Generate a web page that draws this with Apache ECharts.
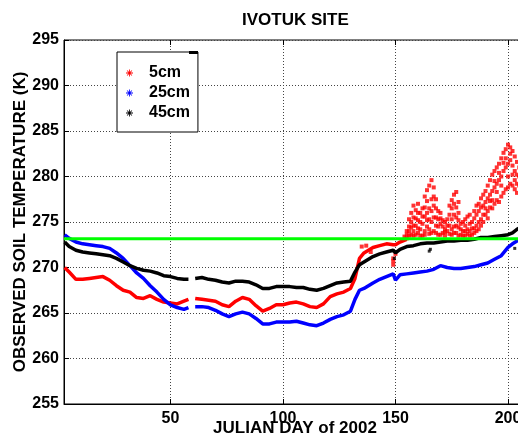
<!DOCTYPE html>
<html>
<head>
<meta charset="utf-8">
<script src="https://cdn.jsdelivr.net/npm/echarts@6/dist/echarts.min.js"></script>
<style>
  html, body { margin: 0; padding: 0; background: #fff; }
  #grafico { width: 518px; height: 439px; }
</style>
</head>
<body>
<div id="grafico"></div>
<script>
// Días julianos compartidos por las tres curvas ('-' = hueco en los datos)
const days = [3, 5, 8, 11, 14, 17, 20, 23, 26, 29, 32, 35, 38, 41, 44, 47, 50, 53, 56, 58, 59.5,
  61, 64, 67, 70, 73, 76, 79, 82, 85, 88, 91, 94, 97, 100, 103, 106, 109, 112, 115,
  118, 121, 124, 127, 130, 132, 134, 136, 138, 140, 143, 146, 149, 150, 152, 155,
  158, 161, 164, 167, 170, 173, 176, 179, 182, 185, 188, 191, 194, 197, 200, 202, 204, 206];

const temp5cm = [270.0, 269.5, 268.7, 268.7, 268.8, 268.9, 269.0, 268.6, 268.0, 267.5,
  267.3, 266.7, 266.6, 266.9, 266.5, 266.2, 266.1, 266.0, 266.3, 266.5, '-',
  266.6, 266.5, 266.4, 266.3, 265.9, 265.7, 266.3, 266.7, 266.5,
  265.8, 265.2, 265.5, 265.9, 265.9, 266.1, 266.2, 266.0, 265.7, 265.6,
  266.0, 266.8, 267.1, 267.3, 267.7, 268.8, 271.0, 271.6, 271.9, 272.2,
  272.4, 272.6, 272.5, 272.5, 272.8, 273.1,
  '-', '-', '-', '-', '-', '-', '-', '-', '-', '-', '-', '-', '-', '-', '-', '-', '-', '-'];

const temp25cm = [273.6, 273.2, 272.8, 272.6, 272.5, 272.4, 272.3, 272.1, 271.6, 271.0,
  270.2, 269.4, 268.8, 268.0, 267.3, 266.5, 265.9, 265.6, 265.4, 265.6, '-',
  265.7, 265.7, 265.6, 265.3, 264.9, 264.6, 264.9, 265.1, 264.9,
  264.4, 263.8, 263.8, 264.0, 264.0, 264.0, 264.1, 263.9, 263.7, 263.6,
  263.9, 264.3, 264.6, 264.8, 265.2, 266.5, 267.5, 267.7, 268.0, 268.3,
  268.7, 269.0, 269.3, 268.6, 269.2, 269.3,
  269.4, 269.5, 269.6, 269.8, 270.2, 270.0, 269.9, 269.9, 270.0, 270.1,
  270.3, 270.5, 270.9, 271.3, 272.2, 272.6, 272.9, 273.2];

const temp45cm = [272.8, 272.3, 271.9, 271.7, 271.6, 271.5, 271.4, 271.3, 271.0, 270.6,
  270.2, 269.9, 269.7, 269.6, 269.4, 269.1, 269.0, 268.8, 268.7, 268.7, '-',
  268.8, 268.9, 268.7, 268.6, 268.4, 268.3, 268.5, 268.5, 268.4,
  268.1, 267.7, 267.7, 267.9, 267.9, 267.9, 267.8, 267.8, 267.6, 267.5,
  267.7, 268.0, 268.3, 268.4, 268.5, 269.5, 270.3, 270.6, 270.9, 271.2,
  271.5, 271.7, 271.9, 271.6, 272.0, 272.3,
  272.4, 272.6, 272.7, 272.7, 272.8, 272.9, 272.9, 273.0, 273.0, 273.1,
  273.3, 273.3, 273.4, 273.5, 273.6, 273.8, 274.2, 274.5];

// Nube de puntos de 5cm en verano: [día, temperaturas...]
const cloud5cm = [
  [135, 272.3], [137, 272.4], [139, 271.7], [149, 271.0, 270.3, 270.7], [150, 271.5], [154, 273.4],
  [155, 273.2, 274.0, 273.6], [156, 273.5, 274.5, 275.3, 274.0], [157, 273.6, 275.0, 276.0, 274.4],
  [158, 274.0, 275.5, 276.8, 274.6, 273.5], [159, 273.6, 274.6, 276.3, 275.4],
  [160, 273.8, 275.2, 277.0, 274.3, 276.0], [161, 274.2, 276.0, 275.0, 273.5],
  [162, 273.5, 274.8, 276.5, 275.6], [163, 274.0, 275.6, 277.8, 273.6, 276.6],
  [164, 274.5, 276.0, 278.5, 275.2, 277.3], [165, 274.2, 276.5, 279.0, 275.3, 273.7],
  [166, 275.0, 277.5, 279.6, 273.8, 276.2], [167, 274.0, 276.8, 278.8, 275.5, 277.8],
  [168, 273.8, 275.5, 277.5, 274.6, 276.5], [169, 274.5, 276.2, 273.6, 275.3],
  [170, 273.6, 274.8, 276.0, 275.4], [171, 273.8, 274.5, 275.2], [172, 273.5, 274.2, 275.0, 273.9],
  [173, 274.0, 275.3, 274.6], [174, 273.7, 275.8, 276.8, 274.6],
  [175, 274.2, 276.5, 277.4, 273.6, 275.3], [176, 274.5, 277.0, 278.0, 275.8, 273.8],
  [177, 273.8, 275.5, 278.3, 276.6, 274.6], [178, 274.4, 276.0, 277.2, 273.5, 275.2],
  [179, 273.6, 274.8, 274.2], [180, 274.0, 275.0, 273.5], [181, 273.5, 274.6, 275.3, 274.0],
  [182, 274.2, 275.6, 273.7], [183, 274.0, 274.8, 275.8, 273.5], [184, 273.6, 275.0, 274.3],
  [185, 274.3, 275.4, 276.2, 273.8], [186, 274.6, 275.8, 276.8, 274.0],
  [187, 275.0, 276.2, 274.2, 277.0], [188, 275.3, 276.6, 277.6, 274.6],
  [189, 275.0, 276.8, 278.0, 275.8], [190, 275.8, 277.2, 278.4, 276.5],
  [191, 276.2, 277.6, 279.0, 275.4], [192, 276.6, 278.0, 279.6, 277.3],
  [193, 276.5, 278.4, 280.2, 277.4], [194, 277.0, 278.8, 280.6, 279.5],
  [195, 277.4, 279.2, 281.0, 278.3], [196, 277.2, 279.6, 281.4, 280.4],
  [197, 277.8, 280.0, 282.0, 279.0], [198, 278.2, 280.6, 282.6, 281.5],
  [199, 278.6, 281.0, 283.0, 282.0], [200, 278.8, 281.4, 283.5, 280.0],
  [201, 279.2, 281.8, 283.2, 282.5], [202, 279.0, 281.2, 282.8, 280.2],
  [203, 278.6, 280.6, 282.2, 279.6], [204, 278.2, 280.2, 281.6, 279.2],
  [205, 279.0, 281.0, 280.0]
];

// Puntos sueltos de 45cm
const stray45cm = [[149.5, 271.0], [165, 271.8], [165.5, 272.0], [203, 272.1]];

// Punto de congelación
const freezeDays = [2.7, 208];
const freezeTemp = 273.15;

const xRange = [2.7, 208];
const yRange = [255, 295];
const yStep = 5;

const FUENTE = "'Liberation Sans', Arial, Helvetica, sans-serif";
const ROJO = '#ff0000', AZUL = '#0000ff', NEGRO = '#000000', VERDE = '#00ff00';
const ASTERISCO = 'path://M0,4.4H10V5.6H0Z M4.4,0H5.6V10H4.4Z M1.1,1.9L1.9,1.1L8.9,8.1L8.1,8.9Z M8.1,1.1L8.9,1.9L1.9,8.9L1.1,8.1Z';

function pares(valores) {
  return days.map((d, i) => [d, valores[i]]);
}
const nube = [];
cloud5cm.forEach((fila) => fila.slice(1).forEach((t) => nube.push([fila[0], t])));

const rejilla = { show: true, lineStyle: { color: '#444', width: 1, type: [1, 2] } };
const texto = { color: '#000', fontFamily: FUENTE, fontWeight: 'bold' };

function curva(nombre, datos, color) {
  return { name: nombre, type: 'line', data: datos, symbol: 'none', connectNulls: false,
           lineStyle: { color: color, width: 3.5 }, itemStyle: { color: color }, animation: false };
}

const chart = echarts.init(document.getElementById('grafico'), null, { renderer: 'canvas' });
chart.setOption({
  backgroundColor: '#fff',
  animation: false,
  title: {
    text: 'IVOTUK SITE', left: 242, top: 12, padding: 0,
    textStyle: Object.assign({ fontSize: 17 }, texto)
  },
  // outerBoundsMode none: la caja queda donde se pide, aunque se salga por la derecha
  grid: { left: 64, top: 40, width: 462, height: 364, show: true, outerBoundsMode: 'none',
          borderColor: '#000', borderWidth: 1, backgroundColor: 'transparent' },
  legend: {
    orient: 'vertical', left: 117, top: 52,
    padding: [11, 8, 9, 9], itemGap: 0, itemWidth: 7, itemHeight: 7,
    icon: ASTERISCO,
    borderColor: '#000', borderWidth: 1, backgroundColor: '#fff',
    data: ['5cm', '25cm', '45cm'],
    textStyle: Object.assign({ fontSize: 16, lineHeight: 20, padding: [0, 0, 0, 11] }, texto)
  },
  graphic: [{ type: 'rect', left: 189, top: 51, shape: { width: 9, height: 3 },
              style: { fill: '#000' }, z: 100 }],
  xAxis: [{
    type: 'value', min: xRange[0], max: xRange[1],
    name: 'JULIAN DAY of 2002', nameLocation: 'middle', nameGap: 16, nameMoveOverlap: false,
    nameTextStyle: Object.assign({ fontSize: 17 }, texto),
    axisLine: { show: true, lineStyle: { color: '#000', width: 1 } },
    axisTick: { show: true, inside: true, length: 5, lineStyle: { color: '#000' } },
    axisLabel: Object.assign({ fontSize: 16, margin: 7, showMinLabel: false, showMaxLabel: false }, texto),
    splitLine: rejilla
  }, {
    type: 'value', position: 'top', min: xRange[0], max: xRange[1],
    axisLine: { show: false },
    axisTick: { show: true, inside: true, length: 5, lineStyle: { color: '#000' } },
    axisLabel: { show: false }, splitLine: { show: false }
  }],
  yAxis: {
    type: 'value', min: yRange[0], max: yRange[1], interval: yStep,
    name: 'OBSERVED SOIL TEMPERATURE (K)', nameLocation: 'middle', nameGap: 35, nameMoveOverlap: false,
    nameTextStyle: Object.assign({ fontSize: 17 }, texto),
    axisLine: { show: true, lineStyle: { color: '#000', width: 1 } },
    axisTick: { show: true, inside: true, length: 5, lineStyle: { color: '#000' } },
    axisLabel: Object.assign({ fontSize: 16, margin: 5 }, texto),
    splitLine: rejilla
  },
  series: [
    curva('5cm', pares(temp5cm), ROJO),
    { name: '5cm', type: 'scatter', data: nube, symbol: 'rect', symbolSize: 4,
      itemStyle: { color: ROJO }, animation: false },
    curva('25cm', pares(temp25cm), AZUL),
    curva('45cm', pares(temp45cm), NEGRO),
    { name: '45cm', type: 'scatter', data: stray45cm, symbol: 'rect', symbolSize: 3,
      itemStyle: { color: NEGRO }, animation: false },
    { name: 'congelación', type: 'line', symbol: 'none',
      data: freezeDays.map((d) => [d, freezeTemp]),
      lineStyle: { color: VERDE, width: 3 }, animation: false }
  ]
});
</script>
</body>
</html>
